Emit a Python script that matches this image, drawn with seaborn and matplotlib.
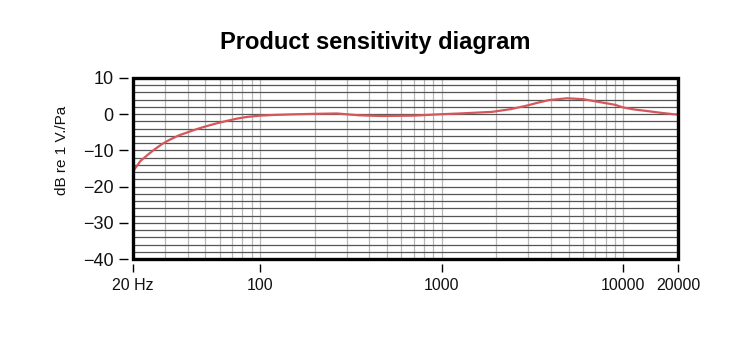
import numpy as np
import pandas as pd
import matplotlib
matplotlib.use("Agg")
import matplotlib.pyplot as plt
from matplotlib.ticker import LogLocator, FixedLocator, MultipleLocator, NullFormatter
from matplotlib.patches import Rectangle
import seaborn as sns

# ---- data ----
freq_hz = [20, 21, 22, 24, 26, 29, 32, 36, 40, 45, 50, 57, 65, 75, 85, 100,
           120, 150, 200, 265, 350, 460, 700, 1000, 1260, 1900, 2400, 2900,
           3400, 3900, 4900, 6000, 7700, 9000, 10000, 11500, 13400, 16000,
           18800, 20000]
level_db = [-15.8, -14.3, -12.9, -11.3, -9.9, -8.2, -7.0, -5.8, -5.0, -4.1,
            -3.4, -2.6, -1.9, -1.2, -0.75, -0.4, -0.2, -0.05, 0.1, 0.2, -0.3,
            -0.5, -0.4, 0.0, 0.2, 0.65, 1.4, 2.3, 3.2, 3.9, 4.4, 4.15, 3.2,
            2.6, 1.85, 1.3, 0.9, 0.4, 0.0, -0.1]
x_ticks = [20, 100, 1000, 10000, 20000]
x_tick_labels = ["20 Hz", "100", "1000", "10000", "20000"]
y_ticks = [-40, -30, -20, -10, 0, 10]

df = pd.DataFrame({"freq": freq_hz, "level": level_db})

sns.set_style("white")
plt.rcParams["font.family"] = ["Liberation Sans", "DejaVu Sans"]
plt.rcParams["axes.unicode_minus"] = True

fig = plt.figure(figsize=(7.5, 3.38), dpi=100)
ax = fig.add_axes([133 / 750, 1 - 259 / 338, (678 - 133) / 750, (259 - 78) / 338])

sns.lineplot(data=df, x="freq", y="level", ax=ax, color="#d4575b", lw=1.6,
             zorder=4)

ax.set_xscale("log")
ax.set_xlim(20, 20000)
ax.set_ylim(-40, 10)

ax.xaxis.set_major_locator(FixedLocator(x_ticks))
ax.set_xticklabels(x_tick_labels)
ax.xaxis.set_minor_locator(LogLocator(base=10, subs=np.arange(2, 10)))
ax.xaxis.set_minor_formatter(NullFormatter())
ax.yaxis.set_major_locator(FixedLocator(y_ticks))
ax.yaxis.set_minor_locator(MultipleLocator(2))

ax.grid(False)
ax.grid(True, which="both", axis="x", color="#b8b8b8", lw=0.9, zorder=1)
ax.grid(True, which="both", axis="y", color="#555555", lw=0.9, zorder=1)

ax.tick_params(axis="both", which="minor", length=0)
ax.tick_params(axis="y", which="major", direction="out", length=9 * 0.72,
               width=1, color="black", pad=4, labelsize=13, labelcolor="#111",
               left=True)
ax.tick_params(axis="x", which="major", direction="out", length=8 * 0.72,
               width=1, color="black", pad=4, labelsize=11.5, labelcolor="#111",
               bottom=True)

# ticks offset from the frame
for s in ["left", "bottom"]:
    ax.spines[s].set_position(("outward", 5 * 0.72))
    ax.spines[s].set_color("none")
for s in ["right", "top"]:
    ax.spines[s].set_visible(False)
ax.add_patch(Rectangle((0, 0), 1, 1, transform=ax.transAxes, fill=False,
                       lw=2.4, edgecolor="black", clip_on=False, zorder=6))

ax.set_xlabel("")
ax.set_ylabel("")
fig.text(62 / 750, 1 - 150 / 338, "dB re 1 V./Pa", rotation=90,
         ha="center", va="center", fontsize=11, color="#111")
fig.text(0.5, 1 - 43 / 338, "Product sensitivity diagram", ha="center",
         va="center", fontsize=17, fontweight="bold", color="black")

fig.savefig("out.png", dpi=100, facecolor="white")
